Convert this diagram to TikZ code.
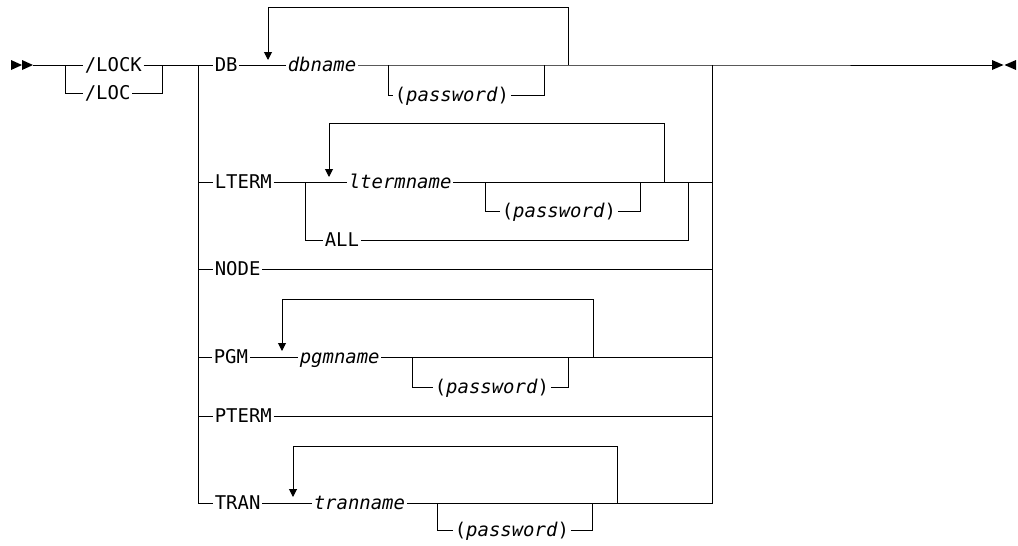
\documentclass[tikz,border=0pt]{standalone}
\usepackage{fontspec}
\newfontfamily\rrfont{DejaVu Sans Mono}
\usetikzlibrary{arrows.meta,calc}
\newcommand\diafont{\rrfont\fontsize{14.2pt}{17pt}\selectfont}
\tikzset{
  kw/.style={font=\diafont, inner xsep=1pt, inner ysep=0pt, text height=10.3pt,
    text depth=0pt, anchor=west},
  var/.style={kw, font=\diafont\itshape},
  rep/.style={-{Triangle[length=6pt,width=6pt]}},
  tip/.style={fill=black}
}
\begin{document}
\begin{tikzpicture}[x=0.75pt, y=-0.75pt, line width=0.75pt]
  \useasboundingbox (0,0) rectangle (1018,546);

  % entry and exit marks
  \fill[tip] (11,60) -- (22,65) -- (11,70) -- cycle;
  \fill[tip] (22,60) -- (33,65) -- (22,70) -- cycle;
  \fill[tip] (992,60) -- (1003.5,65) -- (992,70) -- cycle;
  \fill[tip] (1016,60) -- (1004.5,65) -- (1016,70) -- cycle;
  \coordinate (start) at (33,65);
  \coordinate (fin) at (992,65);

  % command verb
  \coordinate (lsplit) at (65,65);
  \coordinate (ljoin) at (162,65);
  \node[kw] (lock) at (83,65) {/LOCK};
  \node[kw] (loc) at (83,93) {/LOC};
  \draw (start) -- (lock.west);
  \draw (lsplit) |- (loc.west);
  \draw (loc.east) -| (ljoin);

  % main rails
  \coordinate (vl) at (198,65);
  \coordinate (vr) at (712,65);

  % DB
  \node[kw] (db) at (213,65) {DB};
  \node[var] (dbname) at (286,65) {dbname};
  \node[kw] (dbpw) at (393,95) {(\textit{password})};
  \coordinate (dbpwl) at (388,65);
  \coordinate (dbpwr) at (544,65);
  \coordinate (dbloopr) at (568,65);
  \draw (lock.east) -- (db.west);
  \draw (db.east) -- (dbname.west);
  \draw (dbname.east) -- (vr) -- (fin);
  \draw (dbpwl) |- (dbpw.west);
  \draw (dbpw.east) -| (dbpwr);
  \draw[rep] (dbloopr) -- ++(0,-58) -| (268,60);

  % LTERM
  \node[kw] (lterm) at (213,182) {LTERM};
  \node[var] (ltname) at (347,182) {ltermname};
  \node[kw] (ltpw) at (500,211) {(\textit{password})};
  \node[kw] (all) at (323,240) {ALL};
  \coordinate (ltsplit) at (305,182);
  \coordinate (ltpwl) at (485,182);
  \coordinate (ltpwr) at (640,182);
  \coordinate (ltloopr) at (664,182);
  \coordinate (alljoin) at (688,182);
  \draw (vl |- lterm) -- (lterm.west);
  \draw (lterm.east) -- (ltname.west);
  \draw (ltname.east) -- (vr |- ltname);
  \draw (ltsplit) |- (all.west);
  \draw (all.east) -| (alljoin);
  \draw (ltpwl) |- (ltpw.west);
  \draw (ltpw.east) -| (ltpwr);
  \draw[rep] (ltloopr) -- ++(0,-59) -| (329,177);

  % NODE
  \node[kw] (nodekw) at (213,269) {NODE};
  \draw (vl |- nodekw) -- (nodekw.west);
  \draw (nodekw.east) -- (vr |- nodekw);

  % PGM
  \node[kw] (pgm) at (212,357) {PGM};
  \node[var] (pgmname) at (298,357) {pgmname};
  \node[kw] (pgmpw) at (433,387) {(\textit{password})};
  \coordinate (pgmpwl) at (412,357);
  \coordinate (pgmpwr) at (568,357);
  \coordinate (pgmloopr) at (593,357);
  \draw (vl |- pgm) -- (pgm.west);
  \draw (pgm.east) -- (pgmname.west);
  \draw (pgmname.east) -- (vr |- pgmname);
  \draw (pgmpwl) |- (pgmpw.west);
  \draw (pgmpw.east) -| (pgmpwr);
  \draw[rep] (pgmloopr) -- ++(0,-58) -| (282,351);

  % PTERM
  \node[kw] (pterm) at (213,416) {PTERM};
  \draw (vl |- pterm) -- (pterm.west);
  \draw (pterm.east) -- (vr |- pterm);

  % TRAN
  \node[kw] (tran) at (213,503) {TRAN};
  \node[var] (tranname) at (312,503) {tranname};
  \node[kw] (tranpw) at (453,530) {(\textit{password})};
  \coordinate (tranpwl) at (437,503);
  \coordinate (tranpwr) at (592,503);
  \coordinate (tranloopr) at (617,503);
  \draw (vl) |- (tran.west);
  \draw (tran.east) -- (tranname.west);
  \draw (tranname.east) -| (vr);
  \draw (tranpwl) |- (tranpw.west);
  \draw (tranpw.east) -| (tranpwr);
  \draw[rep] (tranloopr) -- ++(0,-57) -| (293,497);
\end{tikzpicture}
\end{document}
